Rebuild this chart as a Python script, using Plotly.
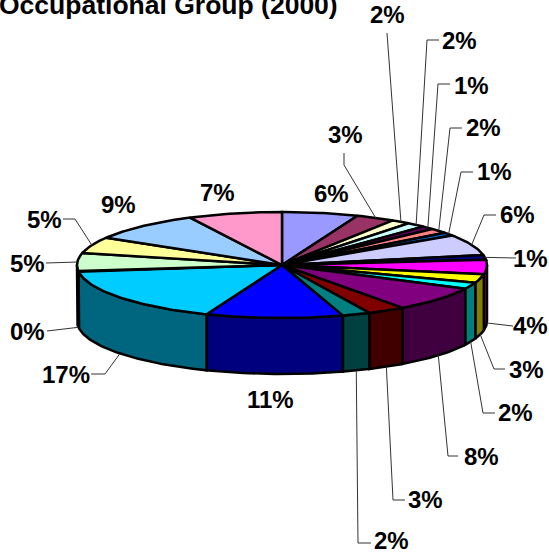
import math
import plotly.graph_objects as go

# --- data ---
shares = [6.0, 3.1, 1.5, 1.5, 1.0, 1.5, 1.0, 6.4, 1.4, 4.4, 2.6, 2.0, 7.6, 3.0, 2.2, 10.8, 17.0, 0.2, 5.4, 5.0, 9.0, 7.4]
top_colors = ["#9999FF", "#993366", "#FFFFCC", "#CCFFFF", "#660066", "#FF8080", "#0066CC",
              "#CCCCFF", "#000080", "#FF00FF", "#FFFF00", "#00FFFF", "#800080", "#800000",
              "#008080", "#0000FF", "#00CCFF", "#CCFFFF", "#CCFFCC", "#FFFF99", "#99CCFF", "#FF99CC"]
title_text = "Occupational Group (2000)"

# --- layout constants ---
W, H = 549, 554
CX, CY, RX, RY, DEPTH = 282, 265, 205, 53, 56
label_pos = [(331, 193), (345, 134), (387, 14), (459, 40), (471, 85), (483, 127), (494, 171),
             (517, 214), (530, 258), (530, 325), (526, 369), (515, 412), (481, 456), (425, 499),
             (391, 540), (270, 399), (66, 374), (27, 331), (27, 263), (44, 219), (118, 204), (217, 192)]
elbows = [None, (344, 165), None, (427, 40), (438, 84), (450, 128), (461, 172),
          (484, 215), None, None, (494, 369), (483, 413), (448, 456), (393, 500),
          (358, 543), None, (105, 374), None, None, (75, 219), None, None]
ends = [None, (344, 153), (387, 33), (439, 40), (450, 84), (462, 128), (473, 172),
        (496, 215), (516, 258), (513, 326), (505, 369), (495, 413), (458, 456), (405, 500),
        (371, 543), None, (91, 374), (47, 331), (46, 263), (63, 219), None, None]


def shade(hexc, f=0.5):
    r, g, b = (int(hexc[i:i + 2], 16) for i in (1, 3, 5))
    return f"rgb({int(r * f)},{int(g * f)},{int(b * f)})"


def pt(a, dy=0):
    return CX + RX * math.sin(a), CY - RY * math.cos(a) + dy


total = sum(shares)
edges = [0.0]
for s in shares:
    edges.append(edges[-1] + s / total * 2 * math.pi)

fig = go.Figure()


def poly(xs, ys, fill, lw=2.5):
    fig.add_trace(go.Scatter(x=xs, y=ys, mode="lines", fill="toself", fillcolor=fill,
                             line=dict(color="black", width=lw), hoverinfo="skip", showlegend=False))


# side walls
for i, s in enumerate(shares):
    lo, hi = max(edges[i], math.pi / 2), min(edges[i + 1], 3 * math.pi / 2)
    if hi <= lo or s < 0.5:
        continue
    n = max(2, int((hi - lo) * 60))
    arc = [lo + (hi - lo) * j / n for j in range(n + 1)]
    top = [pt(a) for a in arc]
    bot = [pt(a, DEPTH) for a in reversed(arc)]
    pts = top + bot + top[:1]
    poly([p[0] for p in pts], [p[1] for p in pts], shade(top_colors[i]))

# top faces
for i, s in enumerate(shares):
    a0, a1 = edges[i], edges[i + 1]
    n = max(2, int((a1 - a0) * 60))
    arc = [pt(a0 + (a1 - a0) * j / n) for j in range(n + 1)]
    pts = [(CX, CY)] + arc + [(CX, CY)]
    poly([p[0] for p in pts], [p[1] for p in pts], top_colors[i])

# leader lines
for i, s in enumerate(shares):
    if ends[i] is None:
        continue
    mid = (edges[i] + edges[i + 1]) / 2
    front = math.pi * 0.49 < mid < 3 * math.pi / 2
    start = pt(mid, DEPTH if front else 0)
    path = [start] + ([elbows[i]] if elbows[i] else []) + [ends[i]]
    fig.add_trace(go.Scatter(x=[p[0] for p in path], y=[p[1] for p in path], mode="lines",
                             line=dict(color="#333333", width=1), hoverinfo="skip", showlegend=False))

annotations = [dict(x=lx, y=ly, text=f"{round(s)}%", showarrow=False, xref="x", yref="y",
                    font=dict(family="Liberation Sans", size=24, color="black", weight="bold"))
               for s, (lx, ly) in zip(shares, label_pos)]
annotations.append(dict(x=0, y=5, xshift=-3, text=title_text, showarrow=False, xref="x", yref="y", xanchor="left",
                        font=dict(family="Liberation Sans", size=26.5, color="black", weight="bold")))

fig.update_layout(width=W, height=H, margin=dict(l=0, r=0, t=0, b=0), paper_bgcolor="white",
                  plot_bgcolor="white", annotations=annotations, showlegend=False,
                  xaxis=dict(range=[0, W], visible=False, fixedrange=True),
                  yaxis=dict(range=[H, 0], visible=False, fixedrange=True))
fig.write_html("out.html", config={"displayModeBar": False},
               post_script="document.body.style.margin='0';document.documentElement.style.overflow='hidden';")
